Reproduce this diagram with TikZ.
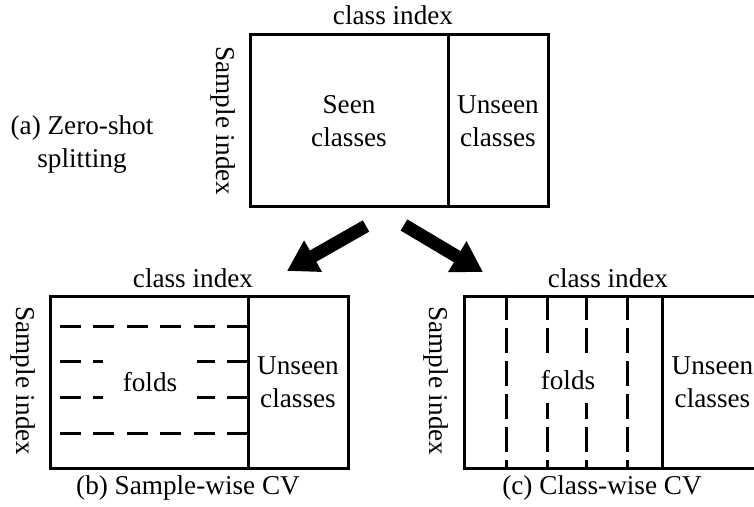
\documentclass[tikz,border=0pt]{standalone}
\usepackage{fontspec}
\setmainfont{Liberation Serif}
\usetikzlibrary{arrows.meta}

\begin{document}
\begin{tikzpicture}[x=0.5pt, y=-0.5pt, font=\fontsize{13.6}{16.5}\selectfont,
		part/.style={draw, line width=1.5pt, minimum height=86pt, align=center, inner sep=0pt},
		seen/.style={part, minimum width=99pt},
		unseen/.style={part, minimum width=50pt},
		hfold/.style={line width=1.5pt, dash pattern=on 10.5pt off 6.2pt},
		vfold/.style={line width=1.5pt, dash pattern=on 12.5pt off 4pt},
		cover/.style={fill=white, inner sep=0pt},
		big/.style={line width=6.5pt, -{Triangle[length=15pt, width=17pt]}}]
			\useasboundingbox (0,0) rectangle (754,507);
			\clip (0,0) rectangle (754,507);

			% (a) zero-shot splitting
			\node[seen] (zs) at (349,121) {Seen\\classes};
			\node[unseen] (zu) at (498,121) {Unseen\\classes};
			\node (zx) at (393,15) {class index};
			\node[rotate=-90] (zy) at (223,121) {Sample index};
			\node[align=center] (za) at (82,145) {(a) Zero-shot\\splitting};

			% (b) sample-wise CV
			\node[seen] (sl) at (149,382.5) {};
			\node[unseen] (su) at (298,382.5) {Unseen\\classes};
			\node (sx) at (193,278) {class index};
			\node[rotate=-90] (sy) at (23,381) {Sample index};
			\node (sb) at (188,488) {(b) Sample-wise CV};
			\foreach \y in {327,361,397,433}
				\draw[hfold] (60,\y) -- (sl.east |- 0,\y);
			\node[cover, minimum width=47pt, minimum height=25pt] (sf) at (150,382) {folds};

			% (c) class-wise CV
			\node[seen] (cl) at (563.5,382.5) {};
			\node[unseen] (cu) at (712.5,382.5) {Unseen\\classes};
			\node (cx) at (608,278) {class index};
			\node[rotate=-90] (cy) at (436,381) {Sample index};
			\node (cc) at (602,488) {(c) Class-wise CV};
			\foreach \x in {506,547,586,627}
				\draw[vfold] (\x,0 |- cl.north) -- (\x,0 |- cl.south);
			\node[cover, minimum width=40pt, minimum height=23pt] (cf) at (568,380) {folds};

			% arrows
			\coordinate (a1) at (366,226);
			\coordinate (b1) at (287,271);
			\coordinate (a2) at (404,225);
			\coordinate (b2) at (483,272);
			\draw[big] (a1) -- (b1);
			\draw[big] (a2) -- (b2);
		\end{tikzpicture}
\end{document}
